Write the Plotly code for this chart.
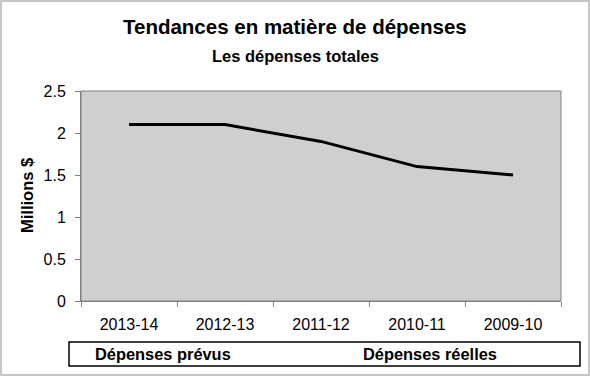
import plotly.graph_objects as go

categories = ["2013-14", "2012-13", "2011-12", "2010-11", "2009-10"]
values = [2.1, 2.1, 1.9, 1.6, 1.5]
y_ticks = [0, 0.5, 1, 1.5, 2, 2.5]
y_tick_labels = ["0", "0.5", "1", "1.5", "2", "2.5"]
title = "Tendances en matière de dépenses"
subtitle = "Les dépenses totales"
y_title = "Millions $"
footer_labels = ["Dépenses prévus", "Dépenses réelles"]

W, H = 590, 376
L, R, T, B = 81, 561, 91, 301
pw, ph = R - L, B - T

def px(x):
    return (x - L) / pw

def py(y):
    return (B - y) / ph

FONT = "Liberation Sans, Arial, sans-serif"

fig = go.Figure()
fig.add_trace(go.Scatter(
    x=categories, y=values, mode="lines",
    line=dict(color="black", width=3), showlegend=False,
    hoverinfo="skip"))

fig.update_layout(
    width=W, height=H,
    margin=dict(l=L, r=W - R, t=T, b=H - B),
    paper_bgcolor="white", plot_bgcolor="#cfcfcf",
    font=dict(family=FONT, color="black", size=15),
    xaxis=dict(type="category", tickson="boundaries", ticks="outside",
               range=[-0.5, len(categories) - 0.5],
               ticklen=5, tickcolor="#808080", showgrid=False,
               showline=True, linecolor="#808080", linewidth=1,
               tickfont=dict(size=16), zeroline=False,
               ticklabelstandoff=9),
    yaxis=dict(range=[0, 2.5], tickvals=y_ticks, ticktext=y_tick_labels,
               ticks="outside", ticklen=5, tickcolor="#808080",
               showgrid=False, showline=True, linecolor="#808080",
               linewidth=1, tickfont=dict(size=16), zeroline=False,
               ticklabelstandoff=6),
)

shapes = [
    # plot area border
    dict(type="rect", xref="paper", yref="paper", x0=0, x1=1, y0=0, y1=1,
         line=dict(color="#808080", width=1), layer="above"),
    # outer chart border
    dict(type="rect", xref="paper", yref="paper", x0=px(1), x1=px(589),
         y0=py(375), y1=py(1), line=dict(color="#b4b4b4", width=1.5)),
    # footer box
    dict(type="rect", xref="paper", yref="paper", x0=px(69), x1=px(580),
         y0=py(366), y1=py(342), line=dict(color="black", width=1.5)),
]
fig.update_layout(shapes=shapes)

annotations = [
    dict(text="<b>" + title + "</b>", x=px(295), y=py(26), xref="paper",
         yref="paper", showarrow=False, font=dict(size=20.5),
         xanchor="center", yanchor="middle"),
    dict(text="<b>" + subtitle + "</b>", x=px(295), y=py(56), xref="paper",
         yref="paper", showarrow=False, font=dict(size=16.5),
         xanchor="center", yanchor="middle"),
    dict(text="<b>" + y_title + "</b>", x=px(27), y=py(196), xref="paper",
         yref="paper", showarrow=False, font=dict(size=16.5), textangle=-90,
         xanchor="center", yanchor="middle"),
    dict(text="<b>" + footer_labels[0] + "</b>", x=px(163), y=py(354),
         xref="paper", yref="paper", showarrow=False, font=dict(size=16.4),
         xanchor="center", yanchor="middle"),
    dict(text="<b>" + footer_labels[1] + "</b>", x=px(430), y=py(354),
         xref="paper", yref="paper", showarrow=False, font=dict(size=16.4),
         xanchor="center", yanchor="middle"),
]
fig.update_layout(annotations=annotations)

fig.write_html("out.html", config={"displayModeBar": False},
               post_script="document.body.style.margin='0';"
                           "document.body.style.padding='0';")
